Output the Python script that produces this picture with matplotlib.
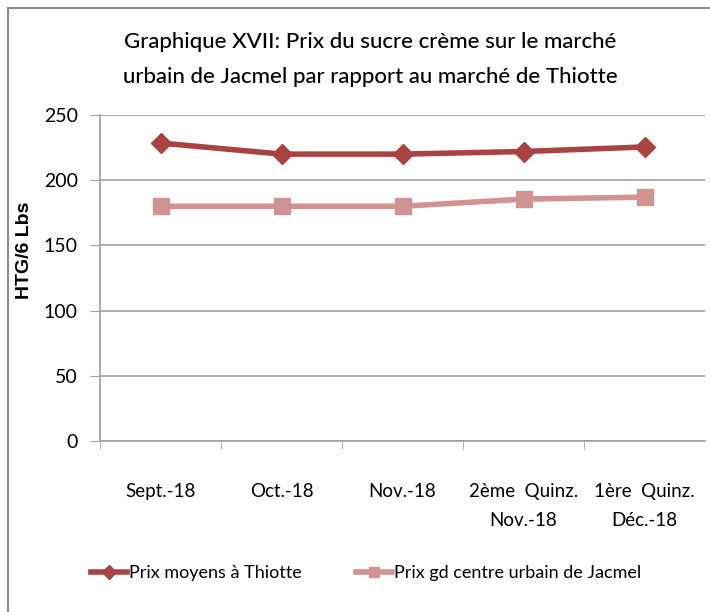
import matplotlib
matplotlib.use("Agg")
import matplotlib.pyplot as plt
from matplotlib.patches import Rectangle
from matplotlib.lines import Line2D

categories = ["Sept.-18", "Oct.-18", "Nov.-18", "2ème  Quinz.\nNov.-18", "1ère  Quinz.\nDéc.-18"]
thiotte = [228.5, 220, 220, 222, 225.5]
jacmel = [180, 180, 180, 185.5, 187]
series_names = ["Prix moyens à Thiotte", "Prix gd centre urbain de Jacmel"]
yticks = [0, 50, 100, 150, 200, 250]

FONT = ["Lato", "DejaVu Sans"]
plt.rcParams['font.family'] = FONT

W, H = 710, 612
fig = plt.figure(figsize=(W/100, H/100), dpi=100)
fig.patches.append(Rectangle((8/W, -0.05), 1.2, (H-8)/H + 0.05, transform=fig.transFigure,
                             fill=False, edgecolor="#8c8c8c", linewidth=1.5))

ax = fig.add_axes([100/W, 1-441/H, 605/W, (441-115)/H])
x = list(range(len(categories)))
c1 = "#A94341"
c2 = "#D09392"
ax.plot(x, thiotte, color=c1, lw=4, marker="D", markersize=10, zorder=3)
ax.plot(x, jacmel, color=c2, lw=4, marker="s", markersize=12, zorder=3)
ax.set_xlim(-0.5, len(categories)-0.5)
ax.set_ylim(0, 250)
ax.set_yticks(yticks)
ax.yaxis.grid(True, color="#a0a0a0", lw=1.2)
ax.set_axisbelow(True)
for s in ["top", "right"]:
    ax.spines[s].set_visible(False)
for s in ["left", "bottom"]:
    ax.spines[s].set_color("#a0a0a0")
    ax.spines[s].set_linewidth(1.2)
ax.tick_params(axis="y", length=7, color="#a0a0a0", labelsize=14, pad=9)
ax.set_xticks(x)
ax.set_xticklabels(categories, fontsize=13.5, linespacing=1.85)
ax.tick_params(axis="x", length=0, pad=30)
ax.set_xticks([i + 0.5 for i in x[:-1]] + [-0.5], minor=True)
ax.tick_params(axis="x", which="minor", length=6, color="#a0a0a0", direction="out")
ax.set_ylabel("HTG/6 Lbs", fontsize=14, fontweight="bold", family=["Liberation Sans", "DejaVu Sans"])
ax.yaxis.set_label_coords((33-100)/605, (441-250)/326)

fig.text(370/W, 1-42/H, "Graphique XVII: Prix du sucre crème sur le marché", ha="center", va="center",
         fontsize=16, fontweight="medium")
fig.text(370/W, 1-77/H, "urbain de Jacmel par rapport au marché de Thiotte", ha="center", va="center",
         fontsize=16, fontweight="medium")

h1 = Line2D([], [], color=c1, lw=4, marker="D", markersize=7)
h2 = Line2D([], [], color=c2, lw=4, marker="s", markersize=7)
fig.legend([h1, h2], series_names, loc="center", bbox_to_anchor=(366/W, 1-573/H), ncol=2,
           frameon=False, fontsize=13, handlelength=2.0, handletextpad=0.1, columnspacing=3.0)

fig.savefig("out.png", dpi=100)
